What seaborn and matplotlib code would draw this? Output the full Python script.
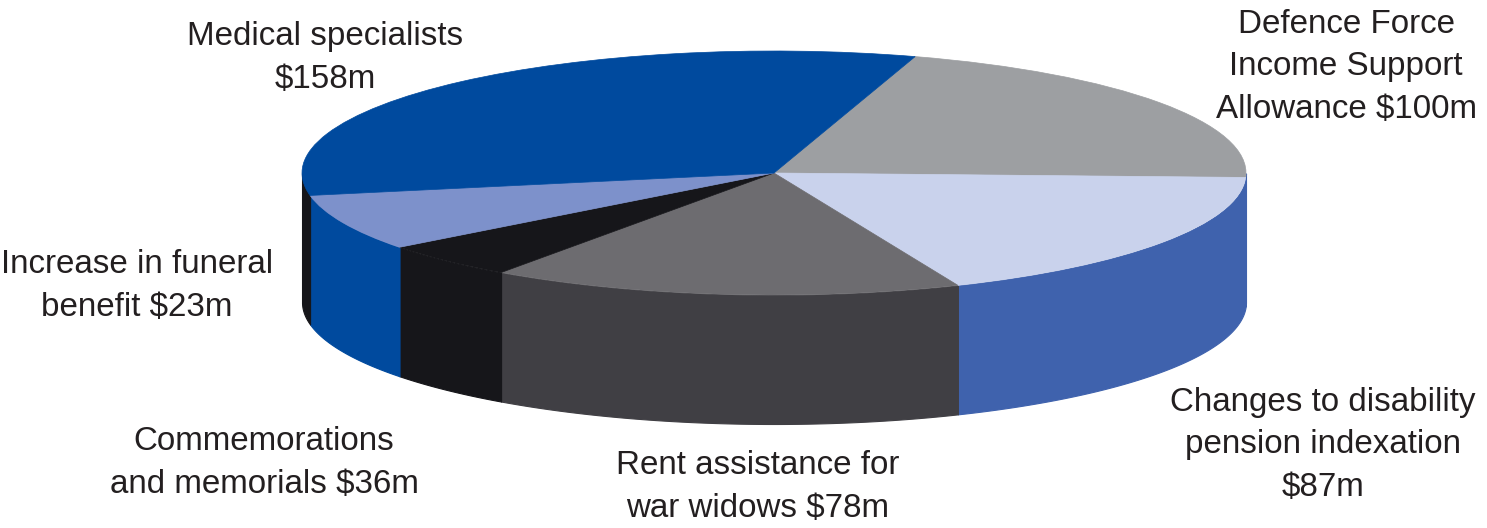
import numpy as np
import matplotlib
matplotlib.use("Agg")
import matplotlib.pyplot as plt
import seaborn as sns

# clockwise from the medical/defence boundary
categories = ["Defence Force\nIncome Support\nAllowance $100m",
              "Changes to disability\npension indexation\n$87m",
              "Rent assistance for\nwar widows $78m",
              "Commemorations\nand memorials $36m",
              "Increase in funeral\nbenefit $23m",
              "Medical specialists\n$158m"]
# the picture draws the $23m slice as the narrow black one
values = [100, 87, 78, 23, 36, 158]
top_colors = ["#9d9fa2", "#c9d2ec", "#6d6c70", "#16161a", "#7d91cb", "#004a9e"]
wall_colors = ["#3f62ad", "#3f62ad", "#403f44", "#16161a", "#004a9e", "#16161a"]

W, H = 1487, 528
CX, CY = 774, 173    # pie centre, px
RX, RY = 472, 122    # ellipse radii, px
DEPTH = 129 / RY     # wall height in pie units

sns.set_theme(style="white")
plt.rcParams["font.family"] = ["Liberation Sans", "DejaVu Sans"]

fig = plt.figure(figsize=(W / 100, H / 100), dpi=100)
ax = fig.add_axes([0, 0, 1, 1])

wedges, _ = ax.pie(values, colors=sns.color_palette(top_colors), startangle=72.6,
                   counterclock=False, wedgeprops={"linewidth": 0, "zorder": 3})
for wedge in wedges:
    # same colour edge so no light seams show between slices
    wedge.set_edgecolor(wedge.get_facecolor())
    wedge.set_linewidth(0.5)

# side walls, only the part of each slice that faces the viewer
for wedge, col in zip(wedges, wall_colors):
    th = np.radians(np.linspace(wedge.theta1, wedge.theta2, 200))
    th = th[np.sin(th) <= 0]
    if len(th) < 2:
        continue
    x = np.cos(th)
    y = np.sin(th)
    ax.fill_between(x, y, y - DEPTH, facecolor=col, edgecolor=col, linewidth=0.8, zorder=2)

# squash the circle into the ellipse
ax.set_aspect("auto")
ax.set_xlim(-CX / RX, (W - CX) / RX)
ax.set_ylim(-(H - CY) / RY, CY / RY)
ax.axis("off")

# label centres, px
label_pos = [(1346, 67), (1323, 445), (758, 487), (264, 463), (137, 286), (325, 58)]
for txt, (px, py) in zip(categories, label_pos):
    fig.text(px / W, 1 - py / H, txt, ha="center", va="center", fontsize=23.9,
             color="#231f20", linespacing=1.46)

fig.savefig("out.png", dpi=100, facecolor="white")
